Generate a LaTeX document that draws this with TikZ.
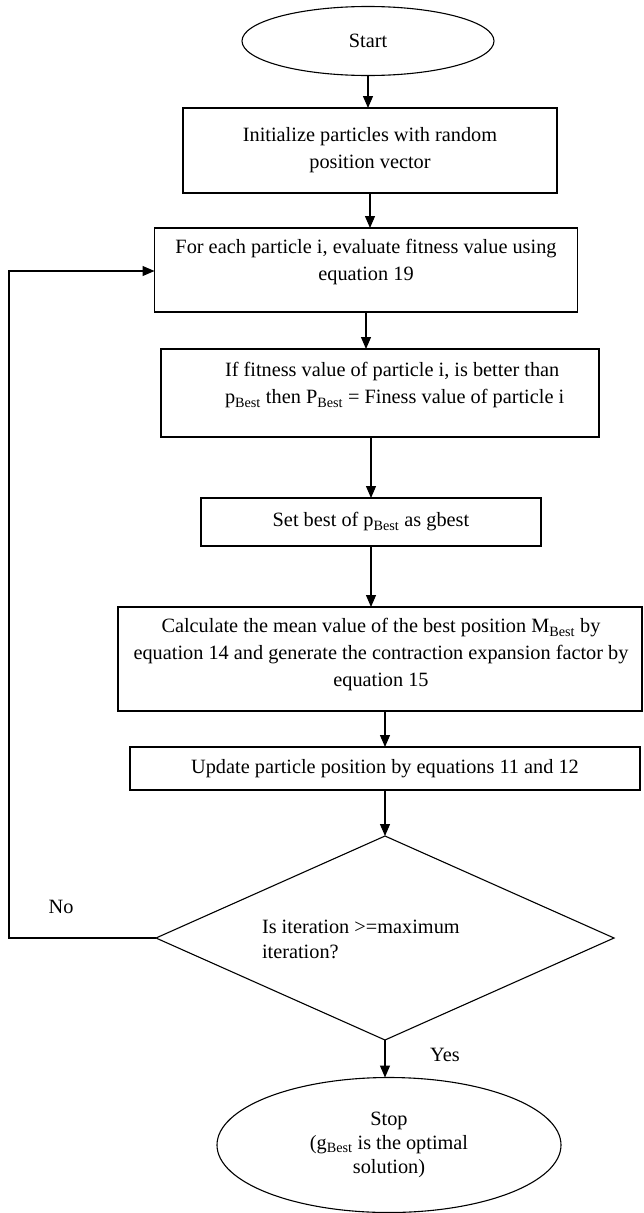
\documentclass[tikz,border=0pt]{standalone}
\usepackage{fontspec}
\setmainfont{Liberation Serif}
\usetikzlibrary{shapes.geometric,arrows.meta}
\begin{document}
\begin{tikzpicture}[x=1pt,y=-1pt,
  base/.style={inner sep=0pt, outer sep=0pt, font=\fontsize{20.3}{27}\selectfont},
  box/.style={base, draw, line width=1.1pt, align=center},
  oval/.style={base, draw, ellipse, line width=1.1pt, align=center},
  txt/.style={base},
  arr/.style={line width=1.1pt, -{Triangle[length=12pt,width=10pt]}},
  ln/.style={line width=1.1pt}]
\useasboundingbox (0,0) rectangle (643,1213);

\node[oval, minimum width=252pt, minimum height=69pt] (start) at (368,41) {Start};
\node[box, minimum width=374pt, minimum height=85pt] (init) at (370,150.5)
  {Initialize particles with random\\position vector};
\node[box, minimum width=423pt, minimum height=84pt] (each) at (366,270) {};
\node[txt, align=center] (eacht) at (366,262)
  {For each particle i, evaluate fitness value using\\equation 19};
\node[box, minimum width=438pt, minimum height=88pt] (ifb) at (380,393) {};
\node[txt, align=left, anchor=west] (ifbt) at (225,385.5)
  {If fitness value of particle i, is better than\\p\textsubscript{Best} then P\textsubscript{Best} = Finess value of particle i};
\node[box, minimum width=340pt, minimum height=48pt] (setb) at (371,522)
  {Set best of p\textsubscript{Best} as gbest};
\node[box, minimum width=524pt, minimum height=104pt] (calc) at (380,659) {};
\node[txt, align=center] (calct) at (381,655)
  {Calculate the mean value of the best position M\textsubscript{Best} by\\equation 14 and generate the contraction expansion factor by\\equation 15};
\node[box, minimum width=510pt, minimum height=43pt] (upd) at (385,768.5)
  {Update particle position by equations 11 and 12};
\node[base, draw, diamond, line width=1.1pt, minimum width=458pt, minimum height=204pt, aspect=2.245] (dec) at (385,938) {};
\node[txt, align=left, anchor=west, font=\fontsize{20.3}{25}\selectfont] (dect) at (262,939.5)
  {Is iteration >=maximum\\iteration?};
\node[oval, minimum width=344pt, minimum height=135pt, font=\fontsize{20.3}{24}\selectfont] (stop) at (389,1145)
  {Stop\\(g\textsubscript{Best} is the optimal\\solution)};
\node[txt] (no) at (61,907) {No};
\node[txt] (yes) at (445,1055) {Yes};

\coordinate (lb) at (9,938);
\coordinate (lt) at (9,271);

\draw[arr] (start.south) -- (start.south |- init.north);
\draw[arr] (init.south) -- (init.south |- each.north);
\draw[arr] (each.south) -- (ifb.north -| each.south);
\draw[arr] (setb.north |- ifb.south) -- (setb.north);
\draw[arr] (setb.south) -- (setb.south |- calc.north);
\draw[arr] (upd.north |- calc.south) -- (upd.north);
\draw[arr] (upd.south) -- (dec.north);
\draw[arr] (dec.south) -- (dec.south |- stop.north);
\draw[arr] (dec.west) -- (lb) -- (lt) -- (lt -| each.west);
\end{tikzpicture}
\end{document}
